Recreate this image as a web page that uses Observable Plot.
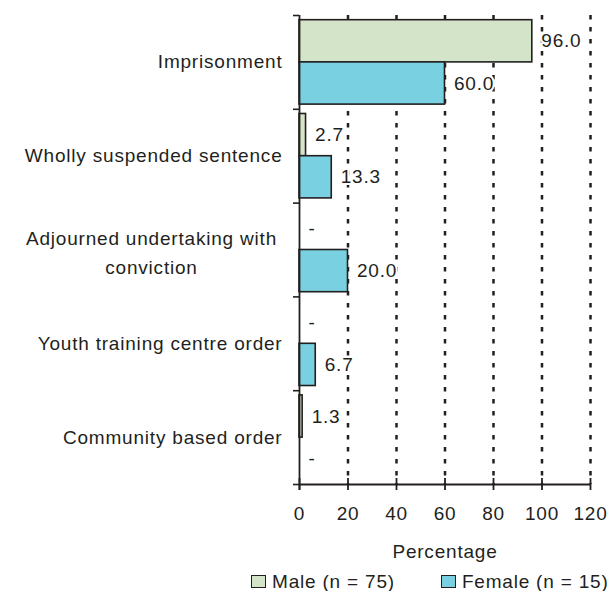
<!DOCTYPE html>
<html><head><meta charset="utf-8">
<script src="https://cdn.jsdelivr.net/npm/d3@7"></script>
<script src="https://cdn.jsdelivr.net/npm/@observablehq/plot@0.6"></script>
<style>
body{margin:0;background:#fff;font-family:"Liberation Sans",Arial,sans-serif;color:#231f20}
#legend{display:flex;align-items:center;font-size:19px;line-height:19px;letter-spacing:0.8px;padding-left:251px;height:19px;margin-top:10px}
.item{display:flex;align-items:center}
.sw{width:13px;height:11px;border:1.5px solid #231f20;margin-right:6px}
</style></head><body>
<div id="chart"></div>
<div id="legend"></div>
<script>
const categories = ["Imprisonment", "Wholly suspended sentence", "Adjourned undertaking with\nconviction", "Youth training centre order", "Community based order"];
const maleValues = [96.0, 2.7, 0, 0, 1.3];
const femaleValues = [60.0, 13.3, 20.0, 6.7, 0];
const genders = ["Male (n = 75)", "Female (n = 15)"];
const genderColors = ["#d4e4c8", "#78d0e0"];
const xTicks = [0, 20, 40, 60, 80, 100, 120];

const rows = [];
categories.forEach((c, i) => {
  rows.push({cat: c, i, g: 0, gender: genders[0], value: maleValues[i]});
  rows.push({cat: c, i, g: 1, gender: genders[1], value: femaleValues[i]});
});
const pad = 0.05, half = 0.45;
const y1 = d => d.i + pad + d.g * half;
const y2 = d => d.i + pad + (d.g + 1) * half;
const ym = d => d.i + pad + (d.g + 0.5) * half;
const catRows = categories.map((c, i) => ({cat: c, i}));
const ink = "#231f20";

const chart = Plot.plot({
  width: 613,
  height: 562,
  marginLeft: 299,
  marginRight: 23,
  marginTop: 15,
  marginBottom: 78,
  style: {fontFamily: "'Liberation Sans', Arial, sans-serif", fontSize: "19px", letterSpacing: "0.8px", color: ink, background: "#fff"},
  x: {domain: [0, 120]},
  y: {domain: [0, categories.length], reverse: true, axis: null},
  color: {domain: genders, range: genderColors},
  marks: [
    Plot.gridX({ticks: xTicks.slice(1), stroke: ink, strokeOpacity: 1, strokeWidth: 2.5, strokeDasharray: "4.5,7.5"}),
    Plot.rectX(rows.filter(d => d.value > 0), {x1: 0, x2: "value", y1, y2, fill: "gender", stroke: ink, strokeWidth: 1.6}),
    Plot.ruleX([0], {stroke: ink, strokeWidth: 1.8, insetBottom: -6}),
    Plot.ruleY([categories.length], {stroke: ink, strokeWidth: 1.8}),
    Plot.axisY({ticks: d3.range(categories.length + 1), tickSize: 6, tickFormat: () => "", stroke: ink, strokeWidth: 1.6}),
    Plot.ruleX(xTicks, {x: d => d, y1: categories.length, y2: categories.length, insetTop: -6, insetBottom: -6, stroke: ink, strokeWidth: 1.8}),
    Plot.axisX({ticks: xTicks, tickSize: 0, tickPadding: 22, fontSize: 19, fill: ink, label: "Percentage", labelAnchor: "center", labelArrow: "none", labelOffset: 73}),
    Plot.text(rows, {x: "value", y: ym, text: d => d.value === 0 ? "-" : d.value.toFixed(1), textAnchor: "start", dx: 9, fontSize: 19, fill: ink, stroke: "white", strokeWidth: 4}),
    Plot.text(catRows.filter(d => d.i !== 2), {x: 0, y: d => d.i + 0.5, text: "cat", textAnchor: "end", dx: -17, fontSize: 19, fill: ink}),
    Plot.text(catRows.filter(d => d.i === 2), {x: 0, y: d => d.i + 0.5, text: "cat", textAnchor: "middle", dx: -148, fontSize: 19, lineHeight: 1.55, fill: ink})
  ]
});
document.getElementById("chart").appendChild(chart);

const legend = document.getElementById("legend");
genders.forEach((g, k) => {
  const item = document.createElement("div");
  item.className = "item";
  if (k > 0) item.style.marginLeft = "46px";
  const sw = document.createElement("div");
  sw.className = "sw";
  sw.style.background = genderColors[k];
  const t = document.createElement("span");
  t.textContent = g;
  item.appendChild(sw);
  item.appendChild(t);
  legend.appendChild(item);
});
</script>
</body></html>
